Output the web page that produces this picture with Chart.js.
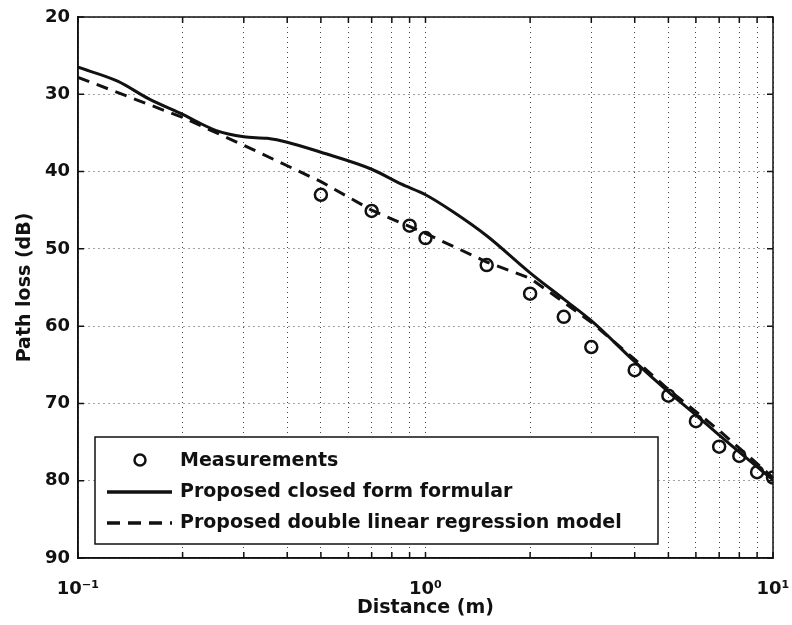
<!DOCTYPE html>
<html>
<head>
<meta charset="utf-8">
<script src="https://cdn.jsdelivr.net/npm/chart.js@4.4.1/dist/chart.umd.min.js"></script>
<style>
  html, body { margin: 0; padding: 0; background: #fff; }
</style>
</head>
<body>
<canvas id="myChart" width="792" height="625"></canvas>
<script>
// measured path loss
const measDistance = [0.5, 0.7, 0.9, 1.0, 1.5, 2, 2.5, 3, 4, 5, 6, 7, 8, 9, 10];
const measLoss = [43.0, 45.1, 47.0, 48.6, 52.1, 55.8, 58.8, 62.7, 65.7, 69.0, 72.3, 75.6, 76.8, 78.9, 79.6];

// closed form formular (solid)
const closedDistance = [0.1, 0.13, 0.16, 0.2, 0.25, 0.3, 0.35, 0.4, 0.5, 0.7, 0.85, 1, 1.2, 1.5, 2, 2.5, 3, 4, 5, 6, 7, 8, 9, 10];
const closedLoss = [26.5, 28.3, 30.6, 32.6, 34.7, 35.5, 35.7, 36.2, 37.5, 39.7, 41.6, 43.0, 45.2, 48.3, 53.1, 56.5, 59.3, 64.6, 68.5, 71.5, 74.1, 76.3, 78.2, 79.9];

// double linear regression model (dashed)
const regDistance = [0.1, 0.2, 0.3, 0.5, 0.7, 1, 1.5, 2, 2.5, 3, 4, 5, 7, 10];
const regLoss = [27.8, 33.0, 36.6, 41.3, 45.0, 48.0, 51.7, 53.8, 56.9, 59.5, 64.3, 68.2, 73.5, 79.6];

const xTicks = [0.1, 0.2, 0.3, 0.4, 0.5, 0.6, 0.7, 0.8, 0.9, 1, 2, 3, 4, 5, 6, 7, 8, 9, 10];
const xTickLabels = {0.1: '10\u207B\u00B9', 1: '10\u2070', 10: '10\u00B9'};
const yTicks = [20, 30, 40, 50, 60, 70, 80, 90];
const seriesNames = ['Measurements', 'Proposed closed form formular', 'Proposed double linear regression model'];

const toPoints = (xs, ys) => xs.map((v, i) => ({x: v, y: ys[i]}));

const ink = '#111';

// frame, inward ticks and the boxed legend
const framePlugin = {
  id: 'frame',
  afterDraw(chart) {
    const {ctx, chartArea: a, scales: {x, y}} = chart;
    ctx.save();
    ctx.strokeStyle = ink;
    ctx.lineWidth = 1.5;
    ctx.strokeRect(a.left, a.top, a.right - a.left, a.bottom - a.top);

    ctx.beginPath();
    xTicks.forEach(v => {
      const px = x.getPixelForValue(v);
      ctx.moveTo(px, a.bottom); ctx.lineTo(px, a.bottom - 6);
      ctx.moveTo(px, a.top); ctx.lineTo(px, a.top + 6);
    });
    yTicks.forEach(v => {
      const py = y.getPixelForValue(v);
      ctx.moveTo(a.left, py); ctx.lineTo(a.left + 6, py);
      ctx.moveTo(a.right, py); ctx.lineTo(a.right - 6, py);
    });
    ctx.stroke();

    // legend box
    const bx = a.left + 17, by = 437, bw = 563, bh = 107;
    ctx.fillStyle = '#fff';
    ctx.fillRect(bx, by, bw, bh);
    ctx.lineWidth = 1.5;
    ctx.strokeRect(bx, by, bw, bh);

    const rows = [by + 24, by + 55, by + 86];
    const textX = bx + 85;
    ctx.font = 'bold 19px "DejaVu Sans"';
    ctx.fillStyle = ink;
    ctx.textBaseline = 'middle';
    seriesNames.forEach((name, i) => ctx.fillText(name, textX, rows[i]));

    ctx.lineWidth = 2.5;
    ctx.beginPath();
    ctx.arc(bx + 45, rows[0] - 1, 5.5, 0, Math.PI * 2);
    ctx.stroke();

    ctx.lineWidth = 3.5;
    ctx.beginPath();
    ctx.moveTo(bx + 12, rows[1]); ctx.lineTo(bx + 77, rows[1]);
    ctx.stroke();

    ctx.setLineDash([13, 8]);
    ctx.beginPath();
    ctx.moveTo(bx + 12, rows[2]); ctx.lineTo(bx + 77, rows[2]);
    ctx.stroke();
    ctx.restore();
  }
};

const data = {
  datasets: [
    {
      label: seriesNames[1],
      data: toPoints(closedDistance, closedLoss),
      borderColor: ink,
      borderWidth: 3,
      pointRadius: 0,
      cubicInterpolationMode: 'monotone',
      order: 1
    },
    {
      label: seriesNames[2],
      data: toPoints(regDistance, regLoss),
      borderColor: ink,
      borderWidth: 3,
      borderDash: [12, 8],
      pointRadius: 0,
      tension: 0,
      order: 2
    },
    {
      label: seriesNames[0],
      data: toPoints(measDistance, measLoss),
      showLine: false,
      borderColor: ink,
      backgroundColor: 'rgba(0,0,0,0)',
      pointStyle: 'circle',
      pointRadius: 6,
      pointBorderWidth: 2.5,
      order: 3
    }
  ]
};

const tickFont = {family: '"DejaVu Sans"', size: 18, weight: 'bold'};
const titleFont = {family: '"DejaVu Sans"', size: 19, weight: 'bold'};

const options = {
  responsive: false,
  animation: false,
  layout: {padding: {left: 6, right: 19, top: 17, bottom: 6}},
  plugins: {
    legend: {display: false},
    tooltip: {enabled: false}
  },
  scales: {
    x: {
      type: 'logarithmic',
      min: 0.1,
      max: 10,
      afterBuildTicks: (scale) => { scale.ticks = xTicks.map(v => ({value: v})); },
      afterFit: (scale) => {
        scale.height = 61;
        scale.paddingLeft = 0;
        scale.paddingRight = 0;
      },
      ticks: {
        autoSkip: false,
        maxRotation: 0,
        padding: 21,
        color: ink,
        font: tickFont,
        callback: (v) => {
          const key = Object.keys(xTickLabels).find(k => Math.abs(+k - v) < 1e-9);
          return key ? xTickLabels[key] : '';
        }
      },
      grid: {color: '#444', lineWidth: 1, drawTicks: false},
      border: {display: true, color: ink, width: 1.5, dash: [1, 4]},
      title: {display: true, text: 'Distance (m)', color: ink, font: titleFont, padding: {top: 0, bottom: 0}}
    },
    y: {
      reverse: true,
      min: 20,
      max: 90,
      afterBuildTicks: (scale) => { scale.ticks = yTicks.map(v => ({value: v})); },
      afterFit: (scale) => {
        scale.width = 72;
        scale.paddingTop = 0;
        scale.paddingBottom = 0;
      },
      ticks: {padding: 8, color: ink, font: tickFont},
      grid: {color: '#444', lineWidth: 1, drawTicks: false},
      border: {display: true, color: ink, width: 1.5, dash: [1, 4]},
      title: {display: true, text: 'Path loss (dB)', color: ink, font: titleFont, padding: {top: 8, bottom: 0}}
    }
  }
};

new Chart(document.getElementById('myChart'), {
  type: 'line',
  data,
  options,
  plugins: [framePlugin]
});
</script>
</body>
</html>
